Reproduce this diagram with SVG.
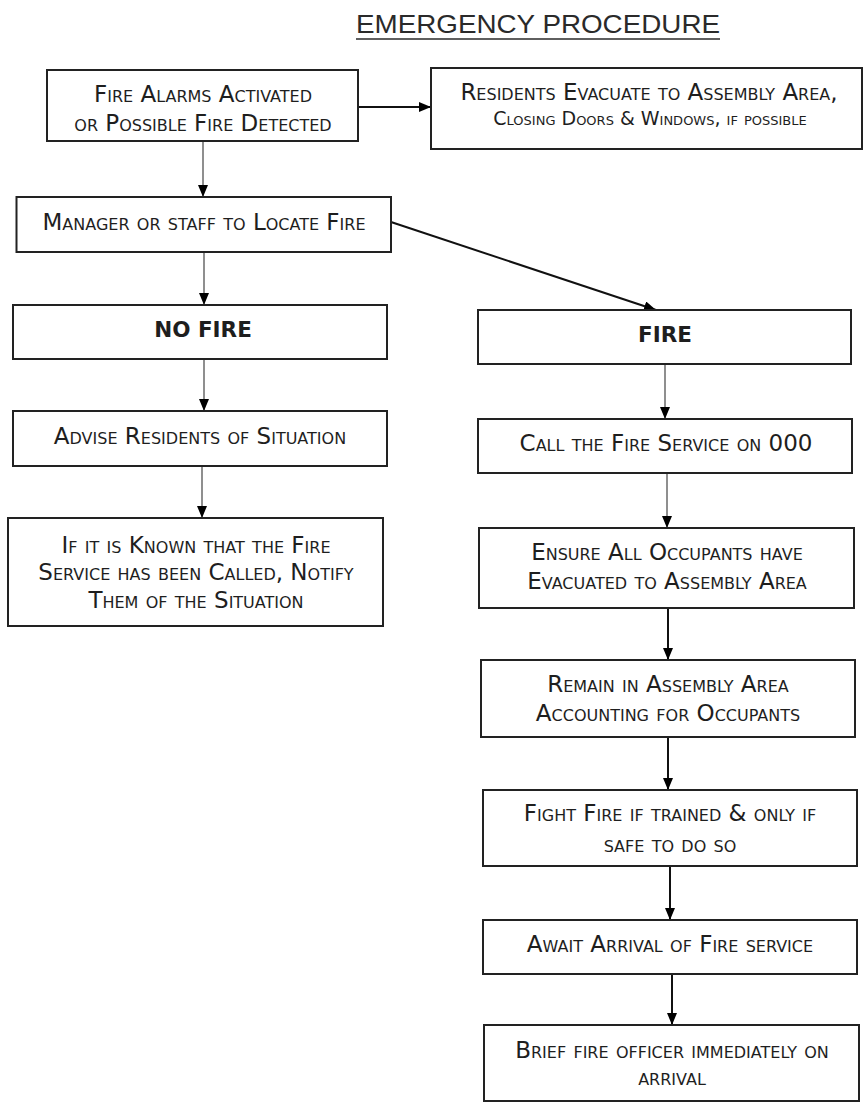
<svg xmlns="http://www.w3.org/2000/svg" width="864" height="1104" viewBox="0 0 864 1104">
  <style>
    .box { fill: #ffffff; stroke: #222222; stroke-width: 2; }
    .t { font-family: "DejaVu Sans", Verdana, sans-serif; font-size: 23px; font-variant: small-caps; fill: #1e1e1e; text-anchor: middle; }
    .ts { font-size: 19px; }
    .b { font-family: "DejaVu Sans", Verdana, sans-serif; font-size: 21.5px; font-weight: bold; fill: #1e1e1e; text-anchor: middle; }
    .title { font-family: "Liberation Sans", Arial, sans-serif; font-size: 26px; fill: #2a2a2a; }
    .c1 { stroke: #6a6a6a; stroke-width: 1.5; fill: none; }
    .c2 { stroke: #111111; stroke-width: 2; fill: none; }
  </style>
  <defs>
    <marker id="ah" markerUnits="userSpaceOnUse" markerWidth="12" markerHeight="10" refX="12" refY="5" orient="auto">
      <path d="M0,0 L12,5 L0,10 z" fill="#000000"/>
    </marker>
  </defs>
  <rect width="864" height="1104" fill="#ffffff"/>

  <g id="title">
    <text class="title" x="356" y="33" textLength="364" lengthAdjust="spacingAndGlyphs">EMERGENCY PROCEDURE</text>
    <line x1="356" y1="39" x2="720" y2="39" stroke="#2a2a2a" stroke-width="1.6"/>
  </g>

  <g id="connectors">
    <line class="c2" x1="358" y1="107" x2="431" y2="107" marker-end="url(#ah)"/>
    <line class="c1" x1="203" y1="141" x2="203" y2="197" marker-end="url(#ah)"/>
    <line class="c1" x1="204" y1="252" x2="204" y2="305" marker-end="url(#ah)"/>
    <line class="c2" x1="391" y1="222" x2="656" y2="310" marker-end="url(#ah)"/>
    <line class="c1" x1="204" y1="359" x2="204" y2="411" marker-end="url(#ah)"/>
    <line class="c1" x1="202" y1="466" x2="202" y2="518" marker-end="url(#ah)"/>
    <line class="c1" x1="665" y1="364" x2="665" y2="419" marker-end="url(#ah)"/>
    <line class="c1" x1="667" y1="473" x2="667" y2="528" marker-end="url(#ah)"/>
    <line class="c2" x1="668" y1="608" x2="668" y2="660" marker-end="url(#ah)"/>
    <line class="c2" x1="668" y1="737" x2="668" y2="790" marker-end="url(#ah)"/>
    <line class="c2" x1="670" y1="866" x2="670" y2="920" marker-end="url(#ah)"/>
    <line class="c2" x1="672" y1="974" x2="672" y2="1025" marker-end="url(#ah)"/>
  </g>

  <g id="n-alarm">
    <rect class="box" x="47" y="70" width="311" height="71"/>
    <text class="t" x="203" y="102">Fire Alarms Activated</text>
    <text class="t" x="203" y="131">or Possible Fire Detected</text>
  </g>

  <g id="n-evacuate">
    <rect class="box" x="431" y="68" width="431" height="81"/>
    <text class="t" x="649" y="100">Residents Evacuate to Assembly Area,</text>
    <text class="t ts" x="650" y="125">Closing Doors &amp; Windows, if possible</text>
  </g>

  <g id="n-locate">
    <rect class="box" x="16.5" y="197" width="374.5" height="55"/>
    <text class="t" x="204" y="230">Manager or staff to Locate Fire</text>
  </g>

  <g id="n-nofire">
    <rect class="box" x="13" y="305" width="374" height="54"/>
    <text class="b" x="203" y="337">NO FIRE</text>
  </g>

  <g id="n-fire">
    <rect class="box" x="478" y="310" width="373" height="54"/>
    <text class="b" x="665" y="342">FIRE</text>
  </g>

  <g id="n-advise">
    <rect class="box" x="13" y="411" width="374" height="55"/>
    <text class="t" x="200" y="444">Advise Residents of Situation</text>
  </g>

  <g id="n-notify">
    <rect class="box" x="8" y="518" width="375" height="108"/>
    <text class="t" x="196" y="553">If it is Known that the Fire</text>
    <text class="t" x="196" y="580">Service has been Called, Notify</text>
    <text class="t" x="196" y="608">Them of the Situation</text>
  </g>

  <g id="n-call">
    <rect class="box" x="478" y="419" width="374" height="54"/>
    <text class="t" x="666" y="451">Call the Fire Service on 000</text>
  </g>

  <g id="n-ensure">
    <rect class="box" x="479" y="528" width="375" height="80"/>
    <text class="t" x="667" y="560">Ensure All Occupants have</text>
    <text class="t" x="667" y="589">Evacuated to Assembly Area</text>
  </g>

  <g id="n-remain">
    <rect class="box" x="481" y="660" width="374" height="77"/>
    <text class="t" x="668" y="692">Remain in Assembly Area</text>
    <text class="t" x="668" y="721">Accounting for Occupants</text>
  </g>

  <g id="n-fight">
    <rect class="box" x="483" y="790" width="374" height="76"/>
    <text class="t" x="670" y="821">Fight Fire if trained &amp; only if</text>
    <text class="t" x="670" y="852">safe to do so</text>
  </g>

  <g id="n-await">
    <rect class="box" x="483" y="920" width="374" height="54"/>
    <text class="t" x="670" y="952">Await Arrival of Fire service</text>
  </g>

  <g id="n-brief">
    <rect class="box" x="484" y="1025" width="375" height="76"/>
    <text class="t" x="672" y="1058">Brief fire officer immediately on</text>
    <text class="t" x="672" y="1085">arrival</text>
  </g>
</svg>
